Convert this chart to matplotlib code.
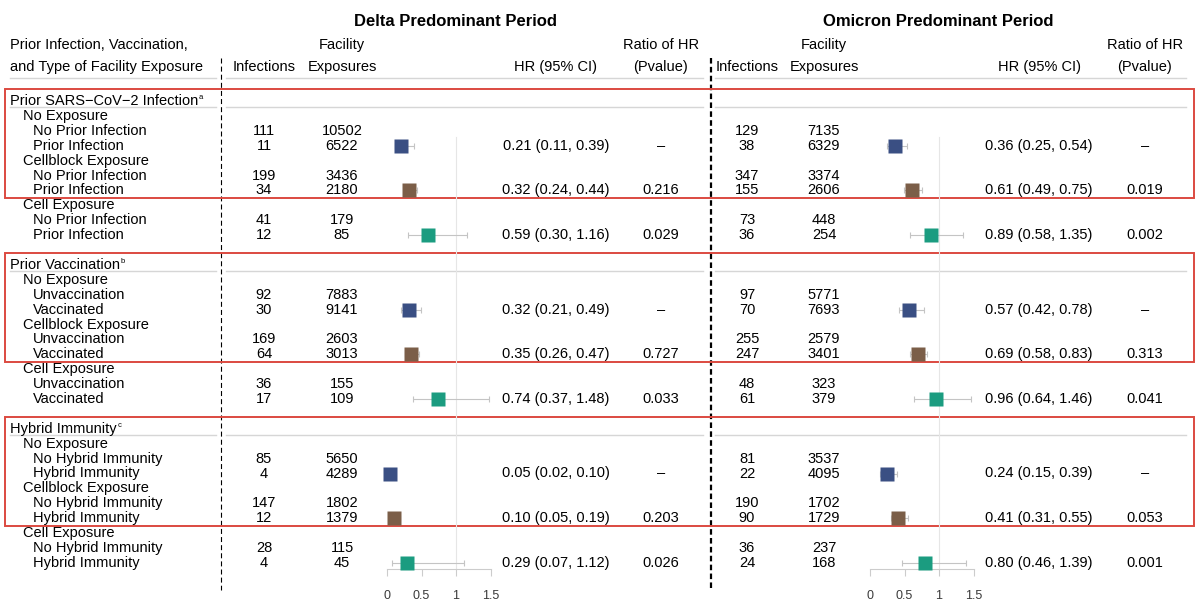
import matplotlib
matplotlib.use('Agg')
import matplotlib.pyplot as plt
from matplotlib.patches import Rectangle

plt.rcParams['font.family'] = ['Liberation Sans', 'DejaVu Sans']

# ---- data ----
sections = ['Prior SARS\u2212CoV\u22122 Infection', 'Prior Vaccination', 'Hybrid Immunity']
notes = ['a', 'b', 'c']
exposures = ['No Exposure', 'Cellblock Exposure', 'Cell Exposure']
levels = [('No Prior Infection', 'Prior Infection'),
          ('Unvaccination', 'Vaccinated'),
          ('No Hybrid Immunity', 'Hybrid Immunity')]

# per section: reference/exposed pairs for no, cellblock, cell exposure
delta_inf = [[111, 11, 199, 34, 41, 12],
             [92, 30, 169, 64, 36, 17],
             [85, 4, 147, 12, 28, 4]]
delta_exp = [[10502, 6522, 3436, 2180, 179, 85],
             [7883, 9141, 2603, 3013, 155, 109],
             [5650, 4289, 1802, 1379, 115, 45]]
delta_hr = [[0.21, 0.32, 0.59], [0.32, 0.35, 0.74], [0.05, 0.10, 0.29]]
delta_lo = [[0.11, 0.24, 0.30], [0.21, 0.26, 0.37], [0.02, 0.05, 0.07]]
delta_hi = [[0.39, 0.44, 1.16], [0.49, 0.47, 1.48], [0.10, 0.19, 1.12]]
delta_p = [['\u2013', '0.216', '0.029'], ['\u2013', '0.727', '0.033'],
           ['\u2013', '0.203', '0.026']]

omi_inf = [[129, 38, 347, 155, 73, 36],
           [97, 70, 255, 247, 48, 61],
           [81, 22, 190, 90, 36, 24]]
omi_exp = [[7135, 6329, 3374, 2606, 448, 254],
           [5771, 7693, 2579, 3401, 323, 379],
           [3537, 4095, 1702, 1729, 237, 168]]
omi_hr = [[0.36, 0.61, 0.89], [0.57, 0.69, 0.96], [0.24, 0.41, 0.80]]
omi_lo = [[0.25, 0.49, 0.58], [0.42, 0.58, 0.64], [0.15, 0.31, 0.46]]
omi_hi = [[0.54, 0.75, 1.35], [0.78, 0.83, 1.46], [0.39, 0.55, 1.39]]
omi_p = [['\u2013', '0.019', '0.002'], ['\u2013', '0.313', '0.041'],
         ['\u2013', '0.053', '0.001']]

box_colors = ['#3a4f83', '#7b5e48', '#1b9c80']

# ---- layout (pixels) ----
W, H = 1200, 615
ROW0, ROWH = 101, 14.9
FS = 10.5
AXIS_Y, TOP_Y = 569, 94


def ypix(r):
    return ROW0 + r * ROWH


fig = plt.figure(figsize=(12, 6.15), dpi=100)
ax = fig.add_axes([0, 0, 1, 1])
ax.set_xlim(0, W)
ax.set_ylim(H, 0)
ax.axis('off')

segments = [(10, 216), (226, 703), (715, 1186)]


def hline(y):
    for a, b in segments:
        ax.plot([a, b], [y, y], color='#d6d6d6', lw=1)


# left column headers
ax.text(10, 45, 'Prior Infection, Vaccination,', fontsize=FS, va='center')
ax.text(10, 67, 'and Type of Facility Exposure', fontsize=FS, va='center')
hline(78)

for s in range(3):
    base = s * 11
    t = ax.text(10, ypix(base), sections[s], fontsize=FS, va='center')
    ax.annotate(notes[s], xy=(1, 1), xycoords=t, xytext=(0.5, 0),
                textcoords='offset points', fontsize=5.5, va='top')
    hline(ypix(base) + 6)
    for g in range(3):
        ax.text(23, ypix(base + 1 + 3 * g), exposures[g], fontsize=FS, va='center')
        ax.text(33, ypix(base + 2 + 3 * g), levels[s][0], fontsize=FS, va='center')
        ax.text(33, ypix(base + 3 + 3 * g), levels[s][1], fontsize=FS, va='center')
    y0 = ypix(base) - 12
    y1 = ypix(base + 6) + 8
    ax.add_patch(Rectangle((5, y0), 1189, y1 - y0, fill=False,
                           ec='#dc4a40', lw=1.4, zorder=5))

# dashed separators
ax.plot([221, 221], [58, 590], color='black', lw=0.8,
        linestyle=(0, (4.5, 2.8)))
ax.plot([711, 711], [58, 590], color='black', lw=1.6,
        linestyle=(0, (2.5, 1.5)))


def draw_period(title, tx, ix, ex, f0, hx, px, inf, expo, hr, lo, hi, pv):
    ax.text(tx, 21, title, fontsize=12, fontweight='bold', ha='center', va='center')
    ax.text(ex, 45, 'Facility', fontsize=FS, ha='center', va='center')
    ax.text(ix, 67, 'Infections', fontsize=FS, ha='center', va='center')
    ax.text(ex, 67, 'Exposures', fontsize=FS, ha='center', va='center')
    ax.text(hx, 67, 'HR (95% CI)', fontsize=FS, ha='center', va='center')
    ax.text(px, 45, 'Ratio of HR', fontsize=FS, ha='center', va='center')
    ax.text(px, 67, '(Pvalue)', fontsize=FS, ha='center', va='center')

    rb = (AXIS_Y - ROW0) / ROWH
    rt = (TOP_Y - ROW0) / ROWH
    fa = fig.add_axes([f0 / W, 1 - AXIS_Y / H, 103.5 / W, (AXIS_Y - TOP_Y) / H])
    fa.set_xlim(0, 1.5)
    fa.set_ylim(rb, rt)
    fa.patch.set_alpha(0)
    for sp in ['top', 'left', 'right']:
        fa.spines[sp].set_visible(False)
    fa.spines['bottom'].set_color('#cccccc')
    fa.spines['bottom'].set_linewidth(0.8)
    fa.set_yticks([])
    fa.set_xticks([0, 0.5, 1, 1.5])
    fa.set_xticklabels(['0', '0.5', '1', '1.5'])
    fa.tick_params(axis='x', length=5, width=0.8, color='#cccccc', pad=10,
                   labelsize=9, labelcolor='#3a3a3a')
    fa.plot([1, 1], [2.4, rb], color='#e6e6e6', lw=0.8, zorder=0)

    for s in range(3):
        base = s * 11
        for g in range(3):
            r0 = base + 2 + 3 * g
            r1 = r0 + 1
            ax.text(ix, ypix(r0), str(inf[s][2 * g]), fontsize=FS, ha='center', va='center')
            ax.text(ix, ypix(r1), str(inf[s][2 * g + 1]), fontsize=FS, ha='center', va='center')
            ax.text(ex, ypix(r0), str(expo[s][2 * g]), fontsize=FS, ha='center', va='center')
            ax.text(ex, ypix(r1), str(expo[s][2 * g + 1]), fontsize=FS, ha='center', va='center')
            h, l, u = hr[s][g], lo[s][g], hi[s][g]
            ax.text(hx, ypix(r1), '%.2f (%.2f, %.2f)' % (h, l, u), fontsize=FS,
                    ha='center', va='center')
            ax.text(px, ypix(r1), pv[s][g], fontsize=FS, ha='center', va='center')
            fa.errorbar(h, r1, xerr=[[h - l], [u - h]], fmt='none', ecolor='#c4c4c4',
                        elinewidth=0.8, capsize=2.2, capthick=0.8, zorder=2)
            fa.plot(h, r1, marker='s', ms=9.5, color=box_colors[g], mec='none',
                    clip_on=False, zorder=3)


draw_period('Delta Predominant Period', 455, 264, 342, 387, 556, 661,
            delta_inf, delta_exp, delta_hr, delta_lo, delta_hi, delta_p)
draw_period('Omicron Predominant Period', 938, 747, 824, 870, 1039, 1145,
            omi_inf, omi_exp, omi_hr, omi_lo, omi_hi, omi_p)

fig.savefig('out.png', dpi=100)
